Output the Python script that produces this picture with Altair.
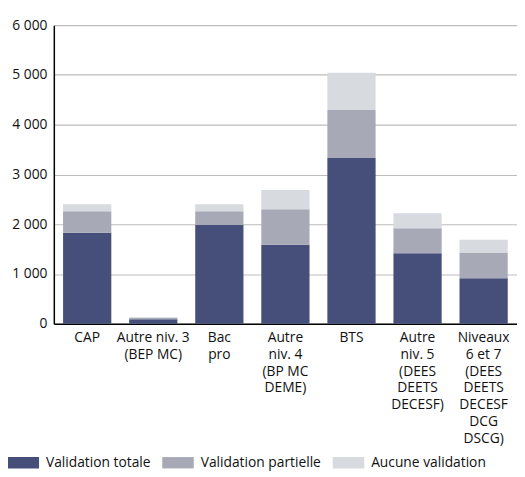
import altair as alt
import pandas as pd

categories = [
    "CAP",
    "Autre niv. 3|(BEP MC)",
    "Bac|pro",
    "Autre|niv. 4|(BP MC|DEME)",
    "BTS",
    "Autre|niv. 5|(DEES|DEETS|DECESF)",
    "Niveaux|6 et 7|(DEES|DEETS|DECESF|DCG|DSCG)",
]
series = ["Validation totale", "Validation partielle", "Aucune validation"]
totale = [1830, 90, 1990, 1590, 3330, 1415, 915]
partielle = [430, 30, 270, 710, 965, 505, 515]
aucune = [140, 10, 140, 390, 750, 300, 260]
colors = ["#464F79", "#A7A9B7", "#D7DADF"]
y_ticks = [0, 1000, 2000, 3000, 4000, 5000, 6000]

rows = []
for i, c in enumerate(categories):
    for k, (s, vals) in enumerate(zip(series, [totale, partielle, aucune])):
        rows.append({"cat": c, "serie": s, "value": vals[i], "ord": k})
df = pd.DataFrame(rows)

FONT = "Open Sans"

chart = (
    alt.Chart(df)
    .mark_bar()
    .encode(
        x=alt.X(
            "cat:N",
            sort=categories,
            title=None,
            scale=alt.Scale(paddingInner=0.27, paddingOuter=0.14),
            axis=alt.Axis(
                labelAngle=0,
                labelExpr="split(datum.label, '|')",
                labelLineHeight=17,
                labelBaseline="top",
                labelPadding=7,
                labelLimit=200,
                ticks=False,
                domainColor="#000000",
                domainWidth=1.5,
                labelFontSize=14,
                labelColor="#111111",
                labelFont=FONT,
            ),
        ),
        y=alt.Y(
            "value:Q",
            stack="zero",
            title=None,
            scale=alt.Scale(domain=[0, 6000], nice=False),
            axis=alt.Axis(
                values=y_ticks,
                labelExpr="replace(format(datum.value, ',d'), ',', ' ')",
                ticks=False,
                labelPadding=7,
                grid=True,
                gridColor="#BDBDBD",
                gridWidth=1.2,
                domainColor="#000000",
                domainWidth=1.5,
                labelFontSize=14,
                labelColor="#111111",
                labelFont=FONT,
            ),
        ),
        color=alt.Color(
            "serie:N",
            sort=series,
            scale=alt.Scale(domain=series, range=colors),
            legend=alt.Legend(
                title=None,
                orient="none",
                direction="horizontal",
                legendX=-47,
                legendY=428,
                symbolType="M-1,-0.36H1V0.36H-1Z",
                symbolSize=1024,
                symbolStrokeWidth=0,
                symbolOpacity=1,
                labelFontSize=14,
                labelFont=FONT,
                labelColor="#111111",
                labelOffset=7,
                columnPadding=11,
            ),
        ),
        order=alt.Order("ord:Q", sort="ascending"),
    )
    .properties(
        width=470,
        height=303,
        autosize=alt.AutoSizeParams(type="none"),
        padding={"left": 46.5, "top": 14, "right": 0, "bottom": 150},
    )
    .configure_view(stroke=None)
)

chart.save("out.html", embed_options={"renderer": "svg", "actions": False})
